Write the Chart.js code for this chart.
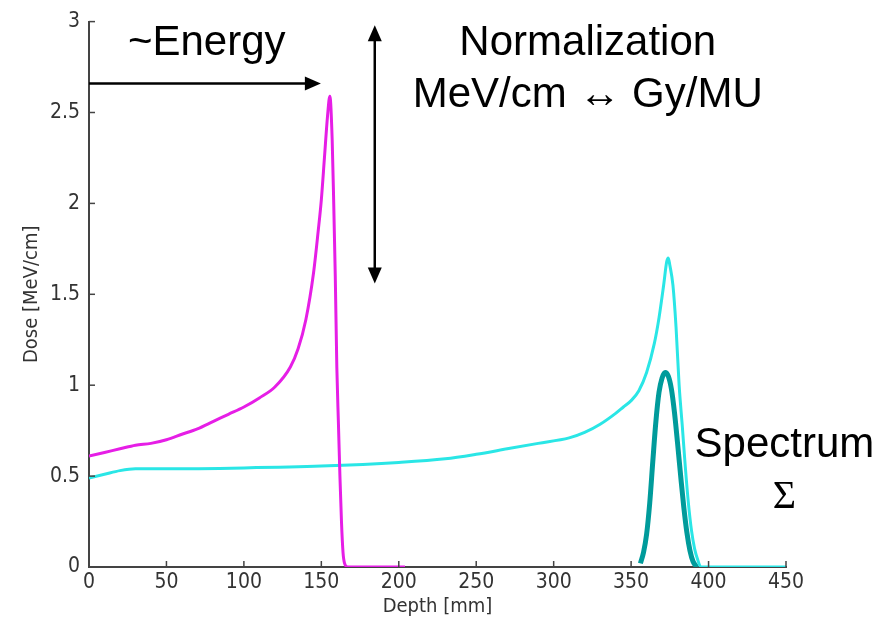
<!DOCTYPE html>
<html>
<head>
<meta charset="utf-8">
<title>Depth dose</title>
<script src="https://cdn.jsdelivr.net/npm/chart.js@4.4.1/dist/chart.umd.min.js"></script>
<style>
  html, body { margin: 0; padding: 0; background: #fff; }
  #wrap { width: 886px; height: 624px; }
</style>
</head>
<body>
<div id="wrap"><canvas id="chart" width="886" height="624"></canvas></div>
<script>
// depth (mm) / dose (MeV/cm)
const lowDepth = [0, 10, 20, 30, 40, 50, 60, 70, 80, 90, 100, 110, 120, 130, 135, 140, 145, 148, 150, 152, 154, 155.5, 157, 158, 159, 160, 161, 162, 163, 164, 165, 167, 204];
const lowDose  = [0.61, 0.63, 0.65, 0.67, 0.68, 0.70, 0.73, 0.76, 0.80, 0.84, 0.88, 0.93, 0.99, 1.10, 1.20, 1.36, 1.62, 1.85, 2.02, 2.25, 2.48, 2.59, 2.35, 2.0, 1.6, 1.1, 0.8, 0.5, 0.25, 0.08, 0.02, 0, 0];

const highDepth = [0, 10, 20, 30, 50, 100, 150, 200, 230, 250, 270, 290, 310, 320, 330, 340, 345, 350, 355, 360, 365, 368, 371, 373, 374, 375, 377, 379, 381, 383, 385, 387, 389, 391, 393, 395, 450];
const highDose  = [0.49, 0.51, 0.53, 0.54, 0.54, 0.545, 0.555, 0.575, 0.595, 0.62, 0.65, 0.68, 0.71, 0.74, 0.785, 0.845, 0.88, 0.915, 0.97, 1.07, 1.23, 1.37, 1.55, 1.68, 1.70, 1.66, 1.55, 1.32, 1.00, 0.78, 0.55, 0.35, 0.20, 0.10, 0.04, 0, 0];

const specDepth = [356, 358, 360, 362, 364, 366, 368, 370, 372, 374, 376, 378, 380, 382, 384, 386, 388, 390, 392, 393];
const specDose  = [0.02, 0.08, 0.18, 0.35, 0.58, 0.80, 0.96, 1.04, 1.07, 1.05, 0.98, 0.85, 0.68, 0.50, 0.33, 0.19, 0.09, 0.03, 0.005, 0];

const xTicks = [0, 50, 100, 150, 200, 250, 300, 350, 400, 450];
const yTicks = [0, 0.5, 1, 1.5, 2, 2.5, 3];

const toPoints = (xs, ys) => xs.map((x, i) => ({ x: x, y: ys[i] }));

const tickFont = { family: "'Liberation Sans Narrow', 'DejaVu Sans Condensed', sans-serif", size: 21 };
const titleFont = { family: tickFont.family, size: 20 };
const axisColor = "#444";

// inward tick marks + the slide annotations
const overlay = {
  id: "overlay",
  afterDraw(chart) {
    const { ctx, scales: { x, y } } = chart;
    const area = chart.chartArea;
    ctx.save();
    ctx.strokeStyle = axisColor;
    ctx.lineWidth = 1.5;
    xTicks.forEach((v) => {
      const px = x.getPixelForValue(v);
      ctx.beginPath();
      ctx.moveTo(px, area.bottom);
      ctx.lineTo(px, area.bottom - 6);
      ctx.stroke();
    });
    yTicks.forEach((v) => {
      const py = y.getPixelForValue(v);
      ctx.beginPath();
      ctx.moveTo(area.left, py);
      ctx.lineTo(area.left + 6, py);
      ctx.stroke();
    });

    // arrows
    ctx.strokeStyle = "#000";
    ctx.fillStyle = "#000";
    ctx.lineWidth = 2.5;
    const head = (tx, ty, dx, dy) => {
      const len = 16, half = 7;
      const nx = -dy, ny = dx;
      ctx.beginPath();
      ctx.moveTo(tx, ty);
      ctx.lineTo(tx - dx * len + nx * half, ty - dy * len + ny * half);
      ctx.lineTo(tx - dx * len - nx * half, ty - dy * len - ny * half);
      ctx.closePath();
      ctx.fill();
    };
    // energy arrow
    const ey = y.getPixelForValue(2.66);
    const ex0 = x.getPixelForValue(0);
    const ex1 = x.getPixelForValue(149.7);
    ctx.beginPath();
    ctx.moveTo(ex0, ey);
    ctx.lineTo(ex1 - 10, ey);
    ctx.stroke();
    head(ex1, ey, 1, 0);
    // normalization arrow
    const nx = x.getPixelForValue(184.5);
    const ny0 = y.getPixelForValue(2.98);
    const ny1 = y.getPixelForValue(1.56);
    ctx.beginPath();
    ctx.moveTo(nx, ny0 + 10);
    ctx.lineTo(nx, ny1 - 10);
    ctx.stroke();
    head(nx, ny0, 0, -1);
    head(nx, ny1, 0, 1);

    // texts
    ctx.textAlign = "center";
    ctx.textBaseline = "middle";
    ctx.font = "42px 'Liberation Sans', Arial, sans-serif";
    ctx.fillText("~Energy", x.getPixelForValue(76), y.getPixelForValue(2.88));
    ctx.fillText("Normalization", x.getPixelForValue(322), y.getPixelForValue(2.88));
    ctx.fillText("MeV/cm \u2194 Gy/MU", x.getPixelForValue(322), y.getPixelForValue(2.595));
    ctx.fillText("Spectrum", x.getPixelForValue(449), y.getPixelForValue(0.667));
    ctx.font = "40px 'Liberation Serif', 'Times New Roman', serif";
    ctx.fillText("\u03A3", x.getPixelForValue(449), y.getPixelForValue(0.383));
    ctx.restore();
  },
};

new Chart(document.getElementById("chart"), {
  type: "scatter",
  data: {
    datasets: [
      {
        label: "low energy",
        data: toPoints(lowDepth, lowDose),
        showLine: true,
        borderColor: "#e61ee6",
        borderWidth: 3,
        pointRadius: 0,
        cubicInterpolationMode: "monotone",
      },
      {
        label: "high energy",
        data: toPoints(highDepth, highDose),
        showLine: true,
        borderColor: "#2ae6e6",
        borderWidth: 3,
        pointRadius: 0,
        cubicInterpolationMode: "monotone",
      },
      {
        label: "spectrum",
        data: toPoints(specDepth, specDose),
        showLine: true,
        borderColor: "#009b9b",
        borderWidth: 5,
        pointRadius: 0,
        cubicInterpolationMode: "monotone",
      },
    ],
  },
  options: {
    responsive: false,
    animation: false,
    layout: { padding: { top: 18, right: 100, bottom: 0, left: 0 } },
    plugins: {
      legend: { display: false },
      tooltip: { enabled: false },
    },
    scales: {
      x: {
        type: "linear",
        min: 0,
        max: 450,
        afterFit: (s) => { s.height = 57; },
        afterBuildTicks: (s) => { s.ticks = xTicks.map((v) => ({ value: v })); },
        grid: { display: false, drawTicks: false },
        border: { display: true, color: axisColor, width: 2 },
        ticks: { color: "#333", font: tickFont, padding: 3, maxRotation: 0 },
        title: {
          display: true,
          text: "Depth [mm]",
          color: "#333",
          font: titleFont,
          padding: { top: 0, bottom: 5 },
        },
      },
      y: {
        min: 0,
        max: 3,
        afterFit: (s) => { s.width = 89; },
        afterBuildTicks: (s) => { s.ticks = yTicks.map((v) => ({ value: v })); },
        grid: { display: false, drawTicks: false },
        border: { display: true, color: axisColor, width: 2 },
        ticks: { color: "#333", font: tickFont, padding: 9, callback: (v) => String(v) },
        title: {
          display: true,
          text: "Dose [MeV/cm]",
          color: "#333",
          font: titleFont,
          padding: { top: 20, bottom: 0 },
        },
      },
    },
  },
  plugins: [overlay],
});
</script>
</body>
</html>
